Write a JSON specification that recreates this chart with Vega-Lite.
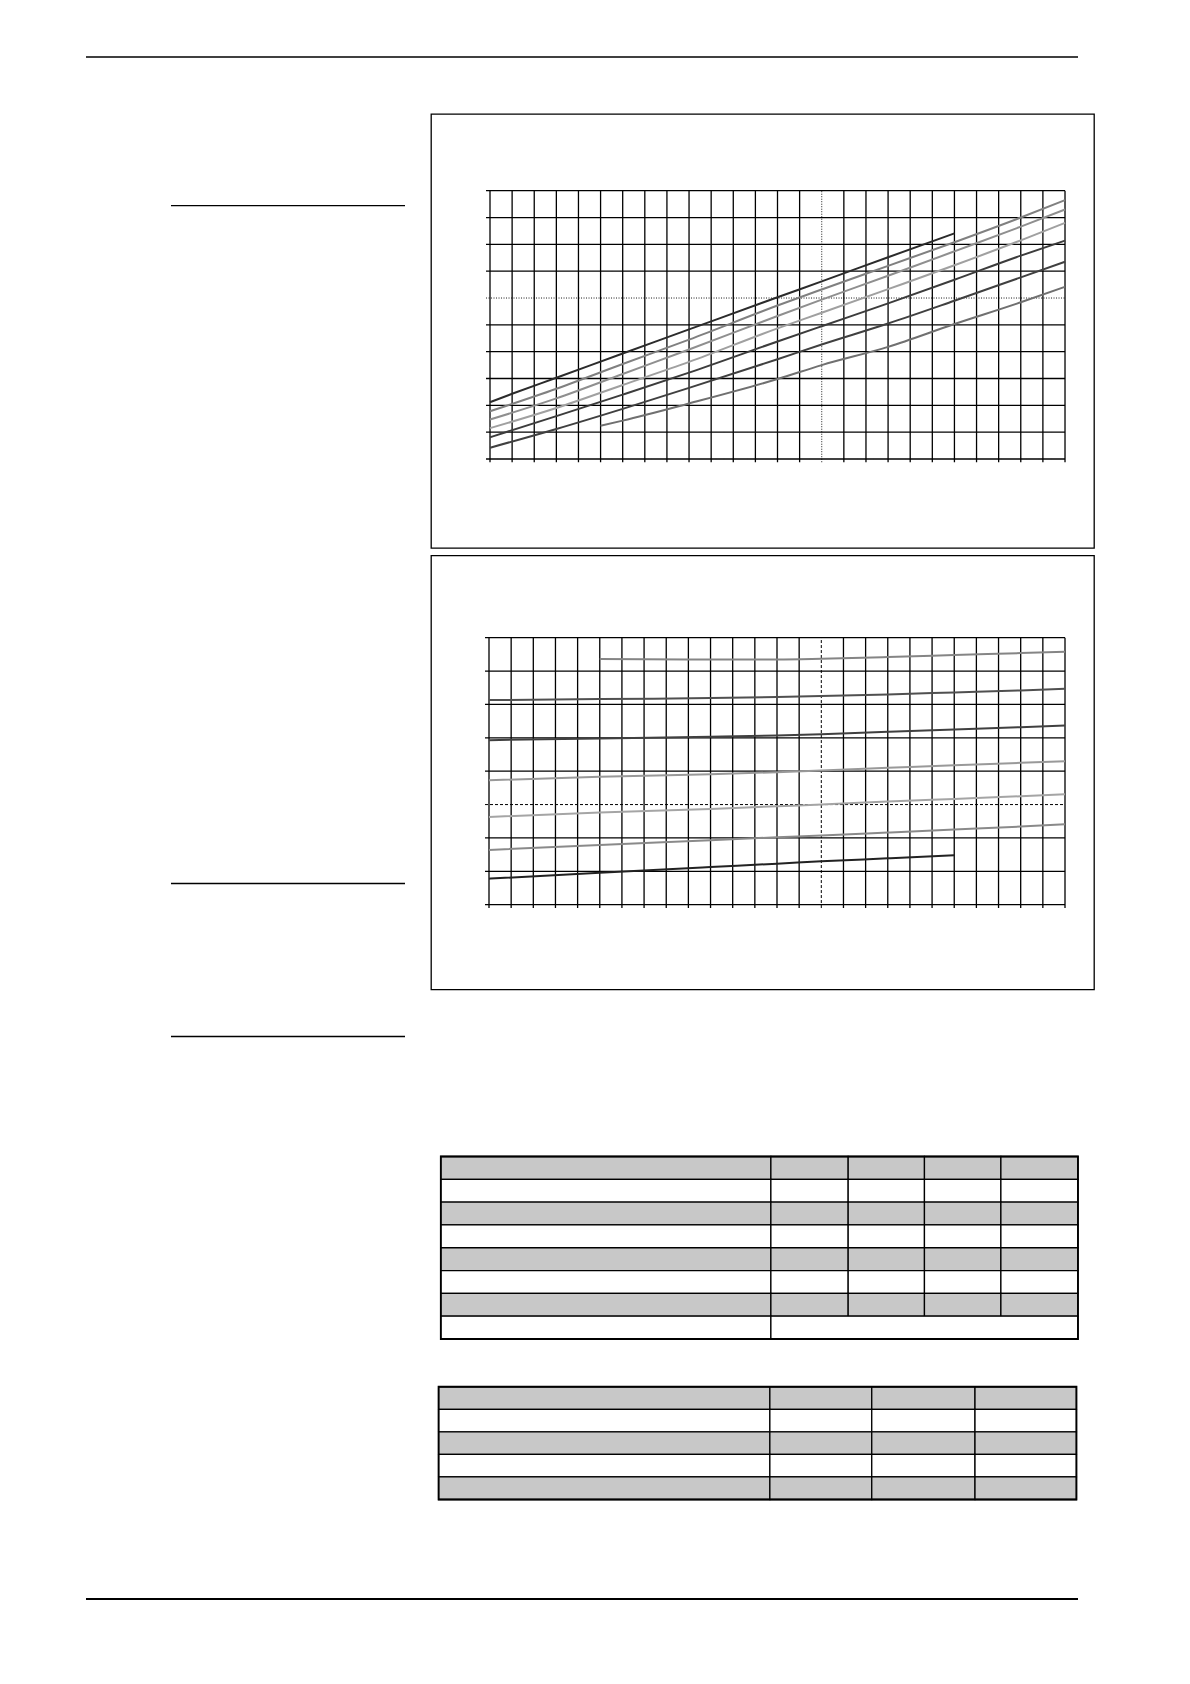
{
  "$schema": "https://vega.github.io/schema/vega-lite/v6.json",
  "background": "white",
  "padding": {"left": 85, "top": 56, "right": 10, "bottom": 10},
  "config": {"view": {"stroke": null}},
  "spacing": 0,
  "vconcat": [
    {
      "width": 992, "height": 56,
      "data": {"values": [{"p": 1}]},
      "mark": {"type": "rule", "stroke": "#000", "strokeWidth": 1.3},
      "encoding": {"y": {"field": "p", "type": "quantitative", "scale": {"domain": [0, 1], "nice": false}, "axis": null}}
    },
    {
      "spacing": 24,
      "hconcat": [
        {
          "width": 319, "height": 1386,
          "data": {"values": [{"ym": 36.17}, {"ym": 155.8}, {"ym": 182.8}]},
          "mark": {"type": "rule", "stroke": "#000", "strokeWidth": 1.3},
          "encoding": {
            "x": {"datum": 30, "type": "quantitative", "scale": {"domain": [15, 71.3], "nice": false, "zero": false}, "axis": null},
            "x2": {"datum": 71.3},
            "y": {"field": "ym", "type": "quantitative", "scale": {"domain": [20, 264.6], "reverse": true, "nice": false, "zero": false}, "axis": null}
          }
        },
        {
          "spacing": 5.5,
          "resolve": {"scale": {"color": "independent", "strokeDash": "independent", "strokeWidth": "independent"}},
          "vconcat": [
            {
              "width": 663, "height": 434,
              "view": {"stroke": "#000", "strokeWidth": 1.3},
              "layer": [
                {
                  "data": {"values": [
                    {"gx":0,"d":"s"},{"gx":1,"d":"s"},{"gx":2,"d":"s"},{"gx":3,"d":"s"},{"gx":4,"d":"s"},{"gx":5,"d":"s"},{"gx":6,"d":"s"},{"gx":7,"d":"s"},{"gx":8,"d":"s"},{"gx":9,"d":"s"},{"gx":10,"d":"s"},{"gx":11,"d":"s"},{"gx":12,"d":"s"},{"gx":13,"d":"s"},{"gx":14,"d":"s"},{"gx":15,"d":"d"},{"gx":16,"d":"s"},{"gx":17,"d":"s"},{"gx":18,"d":"s"},{"gx":19,"d":"s"},{"gx":20,"d":"s"},{"gx":21,"d":"s"},{"gx":22,"d":"s"},{"gx":23,"d":"s"},{"gx":24,"d":"s"},{"gx":25,"d":"s"},{"gx":26,"d":"s"}
                  ]},
                  "mark": {"type": "rule", "stroke": "#000"},
                  "encoding": {
                    "x": {"field": "gx", "type": "quantitative", "scale": {"domain": [-2.668, 27.311], "nice": false, "zero": false}, "axis": null},
                    "y": {"datum": -0.12, "type": "quantitative", "scale": {"domain": [-3.317, 12.859], "nice": false, "zero": false}, "axis": null},
                    "y2": {"datum": 10},
                    "strokeDash": {"field": "d", "type": "nominal", "scale": {"domain": ["s", "d"], "range": [[1, 0], [1, 1.5]]}, "legend": null},
                    "strokeWidth": {"field": "d", "type": "nominal", "scale": {"domain": ["s", "d"], "range": [1.3, 0.9]}, "legend": null}
                  }
                },
                {
                  "data": {"values": [
                    {"gy":0,"d":"s"},{"gy":1,"d":"s"},{"gy":2,"d":"s"},{"gy":3,"d":"s"},{"gy":4,"d":"s"},{"gy":5,"d":"s"},{"gy":6,"d":"d"},{"gy":7,"d":"s"},{"gy":8,"d":"s"},{"gy":9,"d":"s"},{"gy":10,"d":"s"}
                  ]},
                  "mark": {"type": "rule", "stroke": "#000"},
                  "encoding": {
                    "y": {"field": "gy", "type": "quantitative", "scale": {"domain": [-3.317, 12.859], "nice": false, "zero": false}, "axis": null},
                    "x": {"datum": -0.18, "type": "quantitative", "scale": {"domain": [-2.668, 27.311], "nice": false, "zero": false}, "axis": null},
                    "x2": {"datum": 26},
                    "strokeDash": {"field": "d", "type": "nominal", "scale": {"domain": ["s", "d"], "range": [[1, 0], [1, 1.5]]}, "legend": null},
                    "strokeWidth": {"field": "d", "type": "nominal", "scale": {"domain": ["s", "d"], "range": [1.3, 0.9]}, "legend": null}
                  }
                },
                {
                  "data": {"values": [
                    {"s":"L1","gx":0,"gy":2.12},{"s":"L1","gx":1,"gy":2.43},{"s":"L1","gx":3,"gy":3.03},{"s":"L1","gx":6,"gy":3.93},{"s":"L1","gx":9,"gy":4.83},{"s":"L1","gx":13,"gy":6.03},{"s":"L1","gx":15,"gy":6.62},{"s":"L1","gx":18,"gy":7.52},{"s":"L1","gx":21,"gy":8.41},
                    {"s":"L2","gx":0,"gy":1.78},{"s":"L2","gx":3,"gy":2.62},{"s":"L2","gx":6,"gy":3.54},{"s":"L2","gx":9,"gy":4.45},{"s":"L2","gx":13,"gy":5.72},{"s":"L2","gx":15,"gy":6.32},{"s":"L2","gx":18,"gy":7.2},{"s":"L2","gx":21,"gy":8.08},{"s":"L2","gx":24,"gy":9.0},{"s":"L2","gx":26,"gy":9.65},
                    {"s":"L3","gx":0,"gy":1.47},{"s":"L3","gx":3,"gy":2.26},{"s":"L3","gx":6,"gy":3.17},{"s":"L3","gx":9,"gy":4.08},{"s":"L3","gx":13,"gy":5.33},{"s":"L3","gx":15,"gy":5.94},{"s":"L3","gx":18,"gy":6.83},{"s":"L3","gx":21,"gy":7.74},{"s":"L3","gx":24,"gy":8.66},{"s":"L3","gx":26,"gy":9.3},
                    {"s":"L4","gx":0,"gy":1.15},{"s":"L4","gx":3,"gy":1.9},{"s":"L4","gx":6,"gy":2.76},{"s":"L4","gx":9,"gy":3.62},{"s":"L4","gx":13,"gy":4.87},{"s":"L4","gx":15,"gy":5.45},{"s":"L4","gx":18,"gy":6.33},{"s":"L4","gx":21,"gy":7.22},{"s":"L4","gx":24,"gy":8.15},{"s":"L4","gx":26,"gy":8.8},
                    {"s":"L5","gx":0,"gy":0.81},{"s":"L5","gx":3,"gy":1.6},{"s":"L5","gx":6,"gy":2.4},{"s":"L5","gx":9,"gy":3.22},{"s":"L5","gx":13,"gy":4.38},{"s":"L5","gx":15,"gy":4.95},{"s":"L5","gx":18,"gy":5.8},{"s":"L5","gx":21,"gy":6.68},{"s":"L5","gx":24,"gy":7.58},{"s":"L5","gx":26,"gy":8.14},
                    {"s":"L6","gx":0,"gy":0.42},{"s":"L6","gx":3,"gy":1.12},{"s":"L6","gx":6,"gy":1.87},{"s":"L6","gx":9,"gy":2.65},{"s":"L6","gx":13,"gy":3.72},{"s":"L6","gx":15,"gy":4.27},{"s":"L6","gx":18,"gy":5.05},{"s":"L6","gx":21,"gy":5.9},{"s":"L6","gx":24,"gy":6.77},{"s":"L6","gx":26,"gy":7.35},
                    {"s":"L7","gx":5,"gy":1.24},{"s":"L7","gx":6,"gy":1.43},{"s":"L7","gx":9,"gy":2.07},{"s":"L7","gx":13,"gy":2.98},{"s":"L7","gx":15,"gy":3.5},{"s":"L7","gx":18,"gy":4.18},{"s":"L7","gx":21,"gy":5.03},{"s":"L7","gx":24,"gy":5.84},{"s":"L7","gx":26,"gy":6.42}
                  ]},
                  "mark": {"type": "line", "strokeWidth": 2, "interpolate": "monotone"},
                  "encoding": {
                    "x": {"field": "gx", "type": "quantitative", "scale": {"domain": [-2.668, 27.311], "nice": false, "zero": false}, "axis": null},
                    "y": {"field": "gy", "type": "quantitative", "scale": {"domain": [-3.317, 12.859], "nice": false, "zero": false}, "axis": null},
                    "color": {"field": "s", "type": "nominal", "scale": {"domain": ["L1","L2","L3","L4","L5","L6","L7"], "range": ["#2b2b2b","#808080","#8f8f8f","#a0a0a0","#3c3c3c","#404040","#707070"]}, "legend": null}
                  }
                }
              ]
            },
            {
              "width": 663, "height": 434,
              "view": {"stroke": "#000", "strokeWidth": 1.3},
              "layer": [
                {
                  "data": {"values": [
                    {"gx":0,"d":"s"},{"gx":1,"d":"s"},{"gx":2,"d":"s"},{"gx":3,"d":"s"},{"gx":4,"d":"s"},{"gx":5,"d":"s"},{"gx":6,"d":"s"},{"gx":7,"d":"s"},{"gx":8,"d":"s"},{"gx":9,"d":"s"},{"gx":10,"d":"s"},{"gx":11,"d":"s"},{"gx":12,"d":"s"},{"gx":13,"d":"s"},{"gx":14,"d":"s"},{"gx":15,"d":"d"},{"gx":16,"d":"s"},{"gx":17,"d":"s"},{"gx":18,"d":"s"},{"gx":19,"d":"s"},{"gx":20,"d":"s"},{"gx":21,"d":"s"},{"gx":22,"d":"s"},{"gx":23,"d":"s"},{"gx":24,"d":"s"},{"gx":25,"d":"s"},{"gx":26,"d":"s"}
                  ]},
                  "mark": {"type": "rule", "stroke": "#000"},
                  "encoding": {
                    "x": {"field": "gx", "type": "quantitative", "scale": {"domain": [-2.618, 27.309], "nice": false, "zero": false}, "axis": null},
                    "y": {"datum": -0.1, "type": "quantitative", "scale": {"domain": [-2.541, 10.463], "nice": false, "zero": false}, "axis": null},
                    "y2": {"datum": 8},
                    "strokeDash": {"field": "d", "type": "nominal", "scale": {"domain": ["s", "d"], "range": [[1, 0], [3, 2]]}, "legend": null},
                    "strokeWidth": {"field": "d", "type": "nominal", "scale": {"domain": ["s", "d"], "range": [1.3, 1]}, "legend": null}
                  }
                },
                {
                  "data": {"values": [
                    {"gy":0,"d":"s"},{"gy":1,"d":"s"},{"gy":2,"d":"s"},{"gy":3,"d":"d"},{"gy":4,"d":"s"},{"gy":5,"d":"s"},{"gy":6,"d":"s"},{"gy":7,"d":"s"},{"gy":8,"d":"s"}
                  ]},
                  "mark": {"type": "rule", "stroke": "#000"},
                  "encoding": {
                    "y": {"field": "gy", "type": "quantitative", "scale": {"domain": [-2.541, 10.463], "nice": false, "zero": false}, "axis": null},
                    "x": {"datum": -0.18, "type": "quantitative", "scale": {"domain": [-2.618, 27.309], "nice": false, "zero": false}, "axis": null},
                    "x2": {"datum": 26},
                    "strokeDash": {"field": "d", "type": "nominal", "scale": {"domain": ["s", "d"], "range": [[1, 0], [3, 2]]}, "legend": null},
                    "strokeWidth": {"field": "d", "type": "nominal", "scale": {"domain": ["s", "d"], "range": [1.3, 1]}, "legend": null}
                  }
                },
                {
                  "data": {"values": [
                    {"s":"M1","gx":5,"gy":7.36},{"s":"M1","gx":9,"gy":7.35},{"s":"M1","gx":13,"gy":7.35},{"s":"M1","gx":15,"gy":7.37},{"s":"M1","gx":18,"gy":7.42},{"s":"M1","gx":21,"gy":7.48},{"s":"M1","gx":24,"gy":7.54},{"s":"M1","gx":26,"gy":7.58},
                    {"s":"M2","gx":0,"gy":6.13},{"s":"M2","gx":5,"gy":6.16},{"s":"M2","gx":10,"gy":6.19},{"s":"M2","gx":13,"gy":6.22},{"s":"M2","gx":15,"gy":6.25},{"s":"M2","gx":18,"gy":6.3},{"s":"M2","gx":21,"gy":6.36},{"s":"M2","gx":24,"gy":6.42},{"s":"M2","gx":26,"gy":6.47},
                    {"s":"M3","gx":0,"gy":4.93},{"s":"M3","gx":5,"gy":4.98},{"s":"M3","gx":10,"gy":5.03},{"s":"M3","gx":13,"gy":5.07},{"s":"M3","gx":15,"gy":5.11},{"s":"M3","gx":18,"gy":5.18},{"s":"M3","gx":21,"gy":5.25},{"s":"M3","gx":24,"gy":5.32},{"s":"M3","gx":26,"gy":5.37},
                    {"s":"M4","gx":0,"gy":3.73},{"s":"M4","gx":5,"gy":3.83},{"s":"M4","gx":10,"gy":3.91},{"s":"M4","gx":13,"gy":3.97},{"s":"M4","gx":15,"gy":4.02},{"s":"M4","gx":18,"gy":4.1},{"s":"M4","gx":21,"gy":4.18},{"s":"M4","gx":24,"gy":4.25},{"s":"M4","gx":26,"gy":4.3},
                    {"s":"M5","gx":0,"gy":2.63},{"s":"M5","gx":5,"gy":2.76},{"s":"M5","gx":10,"gy":2.87},{"s":"M5","gx":13,"gy":2.95},{"s":"M5","gx":15,"gy":3.0},{"s":"M5","gx":18,"gy":3.09},{"s":"M5","gx":21,"gy":3.17},{"s":"M5","gx":24,"gy":3.25},{"s":"M5","gx":26,"gy":3.31},
                    {"s":"M6","gx":0,"gy":1.64},{"s":"M6","gx":5,"gy":1.79},{"s":"M6","gx":10,"gy":1.93},{"s":"M6","gx":13,"gy":2.02},{"s":"M6","gx":15,"gy":2.07},{"s":"M6","gx":18,"gy":2.16},{"s":"M6","gx":21,"gy":2.25},{"s":"M6","gx":24,"gy":2.34},{"s":"M6","gx":26,"gy":2.41},
                    {"s":"M7","gx":0,"gy":0.78},{"s":"M7","gx":5,"gy":0.96},{"s":"M7","gx":10,"gy":1.13},{"s":"M7","gx":13,"gy":1.23},{"s":"M7","gx":15,"gy":1.3},{"s":"M7","gx":18,"gy":1.39},{"s":"M7","gx":21,"gy":1.48}
                  ]},
                  "mark": {"type": "line", "strokeWidth": 2, "interpolate": "monotone"},
                  "encoding": {
                    "x": {"field": "gx", "type": "quantitative", "scale": {"domain": [-2.618, 27.309], "nice": false, "zero": false}, "axis": null},
                    "y": {"field": "gy", "type": "quantitative", "scale": {"domain": [-2.541, 10.463], "nice": false, "zero": false}, "axis": null},
                    "color": {"field": "s", "type": "nominal", "scale": {"domain": ["M1","M2","M3","M4","M5","M6","M7"], "range": ["#858585","#505050","#404040","#999999","#a5a5a5","#8a8a8a","#222222"]}, "legend": null}
                  }
                }
              ]
            },
            {
              "width": 663, "height": 343,
              "layer": [
                {
                  "data": {"values": [
                    {"x0":1.73,"x1":59.98,"r0":0,"r1":1,"sh":"g"},{"x0":59.98,"x1":73.62,"r0":0,"r1":1,"sh":"g"},{"x0":73.62,"x1":87.08,"r0":0,"r1":1,"sh":"g"},{"x0":87.08,"x1":100.57,"r0":0,"r1":1,"sh":"g"},{"x0":100.57,"x1":114.17,"r0":0,"r1":1,"sh":"g"},
                    {"x0":1.73,"x1":59.98,"r0":1,"r1":2,"sh":"w"},{"x0":59.98,"x1":73.62,"r0":1,"r1":2,"sh":"w"},{"x0":73.62,"x1":87.08,"r0":1,"r1":2,"sh":"w"},{"x0":87.08,"x1":100.57,"r0":1,"r1":2,"sh":"w"},{"x0":100.57,"x1":114.17,"r0":1,"r1":2,"sh":"w"},
                    {"x0":1.73,"x1":59.98,"r0":2,"r1":3,"sh":"g"},{"x0":59.98,"x1":73.62,"r0":2,"r1":3,"sh":"g"},{"x0":73.62,"x1":87.08,"r0":2,"r1":3,"sh":"g"},{"x0":87.08,"x1":100.57,"r0":2,"r1":3,"sh":"g"},{"x0":100.57,"x1":114.17,"r0":2,"r1":3,"sh":"g"},
                    {"x0":1.73,"x1":59.98,"r0":3,"r1":4,"sh":"w"},{"x0":59.98,"x1":73.62,"r0":3,"r1":4,"sh":"w"},{"x0":73.62,"x1":87.08,"r0":3,"r1":4,"sh":"w"},{"x0":87.08,"x1":100.57,"r0":3,"r1":4,"sh":"w"},{"x0":100.57,"x1":114.17,"r0":3,"r1":4,"sh":"w"},
                    {"x0":1.73,"x1":59.98,"r0":4,"r1":5,"sh":"g"},{"x0":59.98,"x1":73.62,"r0":4,"r1":5,"sh":"g"},{"x0":73.62,"x1":87.08,"r0":4,"r1":5,"sh":"g"},{"x0":87.08,"x1":100.57,"r0":4,"r1":5,"sh":"g"},{"x0":100.57,"x1":114.17,"r0":4,"r1":5,"sh":"g"},
                    {"x0":1.73,"x1":59.98,"r0":5,"r1":6,"sh":"w"},{"x0":59.98,"x1":73.62,"r0":5,"r1":6,"sh":"w"},{"x0":73.62,"x1":87.08,"r0":5,"r1":6,"sh":"w"},{"x0":87.08,"x1":100.57,"r0":5,"r1":6,"sh":"w"},{"x0":100.57,"x1":114.17,"r0":5,"r1":6,"sh":"w"},
                    {"x0":1.73,"x1":59.98,"r0":6,"r1":7,"sh":"g"},{"x0":59.98,"x1":73.62,"r0":6,"r1":7,"sh":"g"},{"x0":73.62,"x1":87.08,"r0":6,"r1":7,"sh":"g"},{"x0":87.08,"x1":100.57,"r0":6,"r1":7,"sh":"g"},{"x0":100.57,"x1":114.17,"r0":6,"r1":7,"sh":"g"},
                    {"x0":1.73,"x1":59.98,"r0":7,"r1":8,"sh":"w"},{"x0":59.98,"x1":114.17,"r0":7,"r1":8,"sh":"w"}
                  ]},
                  "mark": {"type": "rect", "stroke": "#000", "strokeWidth": 1.3},
                  "encoding": {
                    "x": {"field": "x0", "type": "quantitative", "scale": {"domain": [0, 117], "nice": false, "zero": false}, "axis": null},
                    "x2": {"field": "x1"},
                    "y": {"field": "r0", "type": "quantitative", "scale": {"domain": [-7.035, 8], "reverse": true, "nice": false, "zero": false}, "axis": null},
                    "y2": {"field": "r1"},
                    "fill": {"field": "sh", "type": "nominal", "scale": {"domain": ["g", "w"], "range": ["#c8c8c8", "#ffffff"]}, "legend": null}
                  }
                },
                {
                  "data": {"values": [{"x0": 1.73, "x1": 114.17, "r0": 0, "r1": 8}]},
                  "mark": {"type": "rect", "stroke": "#000", "strokeWidth": 1.8, "fillOpacity": 0},
                  "encoding": {
                    "x": {"field": "x0", "type": "quantitative", "scale": {"domain": [0, 117], "nice": false, "zero": false}, "axis": null},
                    "x2": {"field": "x1"},
                    "y": {"field": "r0", "type": "quantitative", "scale": {"domain": [-7.035, 8], "reverse": true, "nice": false, "zero": false}, "axis": null},
                    "y2": {"field": "r1"}
                  }
                }
              ]
            },
            {
              "width": 663, "height": 154,
              "layer": [
                {
                  "data": {"values": [
                    {"x0":1.34,"x1":59.8,"r0":0,"r1":1,"sh":"g"},{"x0":59.8,"x1":77.78,"r0":0,"r1":1,"sh":"g"},{"x0":77.78,"x1":96.0,"r0":0,"r1":1,"sh":"g"},{"x0":96.0,"x1":113.9,"r0":0,"r1":1,"sh":"g"},
                    {"x0":1.34,"x1":59.8,"r0":1,"r1":2,"sh":"w"},{"x0":59.8,"x1":77.78,"r0":1,"r1":2,"sh":"w"},{"x0":77.78,"x1":96.0,"r0":1,"r1":2,"sh":"w"},{"x0":96.0,"x1":113.9,"r0":1,"r1":2,"sh":"w"},
                    {"x0":1.34,"x1":59.8,"r0":2,"r1":3,"sh":"g"},{"x0":59.8,"x1":77.78,"r0":2,"r1":3,"sh":"g"},{"x0":77.78,"x1":96.0,"r0":2,"r1":3,"sh":"g"},{"x0":96.0,"x1":113.9,"r0":2,"r1":3,"sh":"g"},
                    {"x0":1.34,"x1":59.8,"r0":3,"r1":4,"sh":"w"},{"x0":59.8,"x1":77.78,"r0":3,"r1":4,"sh":"w"},{"x0":77.78,"x1":96.0,"r0":3,"r1":4,"sh":"w"},{"x0":96.0,"x1":113.9,"r0":3,"r1":4,"sh":"w"},
                    {"x0":1.34,"x1":59.8,"r0":4,"r1":5,"sh":"g"},{"x0":59.8,"x1":77.78,"r0":4,"r1":5,"sh":"g"},{"x0":77.78,"x1":96.0,"r0":4,"r1":5,"sh":"g"},{"x0":96.0,"x1":113.9,"r0":4,"r1":5,"sh":"g"}
                  ]},
                  "mark": {"type": "rect", "stroke": "#000", "strokeWidth": 1.3},
                  "encoding": {
                    "x": {"field": "x0", "type": "quantitative", "scale": {"domain": [0, 117], "nice": false, "zero": false}, "axis": null},
                    "x2": {"field": "x1"},
                    "y": {"field": "r0", "type": "quantitative", "scale": {"domain": [-1.828, 5], "reverse": true, "nice": false, "zero": false}, "axis": null},
                    "y2": {"field": "r1"},
                    "fill": {"field": "sh", "type": "nominal", "scale": {"domain": ["g", "w"], "range": ["#c8c8c8", "#ffffff"]}, "legend": null}
                  }
                },
                {
                  "data": {"values": [{"x0": 1.34, "x1": 113.9, "r0": 0, "r1": 5}]},
                  "mark": {"type": "rect", "stroke": "#000", "strokeWidth": 1.8, "fillOpacity": 0},
                  "encoding": {
                    "x": {"field": "x0", "type": "quantitative", "scale": {"domain": [0, 117], "nice": false, "zero": false}, "axis": null},
                    "x2": {"field": "x1"},
                    "y": {"field": "r0", "type": "quantitative", "scale": {"domain": [-1.828, 5], "reverse": true, "nice": false, "zero": false}, "axis": null},
                    "y2": {"field": "r1"}
                  }
                }
              ]
            }
          ]
        }
      ]
    },
    {
      "width": 992, "height": 98,
      "data": {"values": [{"p": 0}]},
      "mark": {"type": "rule", "stroke": "#000", "strokeWidth": 2},
      "encoding": {"y": {"field": "p", "type": "quantitative", "scale": {"domain": [0, 1], "nice": false}, "axis": null}}
    }
  ]
}
